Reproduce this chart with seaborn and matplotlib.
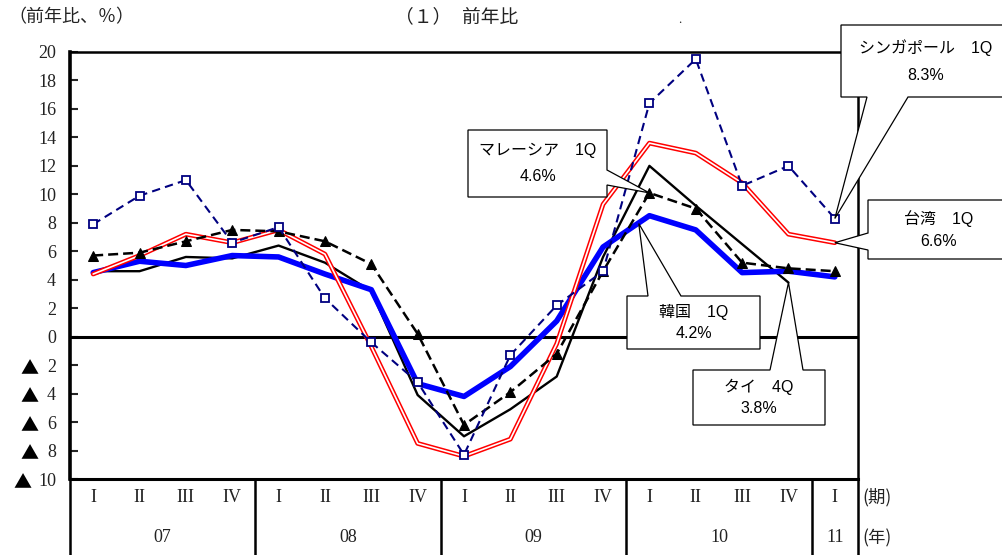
import matplotlib
matplotlib.use("Agg")
import matplotlib.pyplot as plt
import matplotlib.transforms as mtransforms
from matplotlib.patches import Polygon
from matplotlib.lines import Line2D
import seaborn as sns
import numpy as np

# ---- data (前年比, %) ----
quarter_labels = ["I", "II", "III", "IV"] * 4 + ["I"]
year_labels = ["07", "08", "09", "10", "11"]
year_spans = [(0, 3), (4, 7), (8, 11), (12, 15), (16, 16)]

singapore = [7.9, 9.9, 11.0, 6.6, 7.7, 2.7, -0.4, -3.2, -8.3, -1.3, 2.2, 4.6, 16.4, 19.5, 10.6, 12.0, 8.3]
taiwan = [4.4, 5.7, 7.2, 6.6, 7.5, 5.8, -0.7, -7.5, -8.4, -7.2, -0.5, 9.3, 13.6, 12.9, 10.8, 7.2, 6.6]
korea = [4.5, 5.3, 5.0, 5.7, 5.6, 4.4, 3.3, -3.3, -4.2, -2.1, 1.1, 6.3, 8.5, 7.5, 4.5, 4.6, 4.2]
thailand = [4.6, 4.6, 5.6, 5.5, 6.4, 5.2, 3.2, -4.1, -7.0, -5.1, -2.8, 5.6, 12.0, 9.2, 6.5, 3.8]
malaysia = [5.7, 5.9, 6.7, 7.5, 7.4, 6.7, 5.1, 0.2, -6.2, -3.9, -1.2, 4.6, 10.1, 9.0, 5.2, 4.8, 4.6]

sns.set_theme(style="white")
plt.rcParams["font.family"] = ["Liberation Serif", "Noto Sans CJK JP", "DejaVu Sans"]
SERIF = ["Liberation Serif", "Noto Sans CJK JP", "DejaVu Sans"]
GOTHIC = ["Noto Sans CJK JP", "DejaVu Sans"]
BOXFONT = ["Liberation Sans", "Noto Sans CJK JP", "DejaVu Sans"]
TXT = "#222222"

W, H = 1002, 555
fig = plt.figure(figsize=(W / 100, H / 100), dpi=100)
ax = fig.add_axes([70 / W, 1 - 479 / H, (858 - 70) / W, (479 - 52) / H])


def xs(vals):
    return np.arange(len(vals))


# zero line
ax.axhline(0, color="black", lw=2.2, zorder=1)

# Thailand: thin black line
sns.lineplot(x=xs(thailand), y=thailand, ax=ax, color="black", lw=1.7, zorder=3)
# Korea: thick blue line
sns.lineplot(x=xs(korea), y=korea, ax=ax, color="#0000FF", lw=4.0, zorder=4)
# Taiwan: red double line
sns.lineplot(x=xs(taiwan), y=taiwan, ax=ax, color="#FF0000", lw=3.4, zorder=5)
sns.lineplot(x=xs(taiwan), y=taiwan, ax=ax, color="white", lw=1.2, zorder=5.1)
# Malaysia: black dashed with triangles
sns.lineplot(x=xs(malaysia), y=malaysia, ax=ax, color="black", lw=1.8, zorder=6,
             marker="^", markersize=7, markeredgecolor="black", markerfacecolor="black",
             dashes=False, linestyle=(0, (4, 2)))
# Singapore: navy dashed with open squares
sns.lineplot(x=xs(singapore), y=singapore, ax=ax, color="#000080", lw=1.5, zorder=7,
             marker="s", markersize=5.5, markeredgecolor="#000080", markerfacecolor="white",
             markeredgewidth=1.3, dashes=False, linestyle=(0, (4, 2.5)))

ax.set_xlim(-0.5, 16.5)
ax.set_ylim(-10, 20)
yt = np.arange(-10, 21, 2)
ax.set_yticks(yt)
ax.set_yticklabels(["%d" % abs(v) for v in yt], fontsize=13, family=SERIF, color=TXT)
ax.set_xticks([])
ax.tick_params(axis="y", direction="in", length=6, width=1.5, pad=10, left=True)
ax.set_xlabel("")
ax.set_ylabel("")
ax.grid(False)
for side, lw in [("left", 2.6), ("top", 1.8), ("bottom", 2.2), ("right", 1.8)]:
    ax.spines[side].set_visible(True)
    ax.spines[side].set_color("black")
    ax.spines[side].set_linewidth(lw)

# negative values are marked with a leading triangle
lt = mtransforms.blended_transform_factory(fig.transFigure, ax.transData)
lt_low = mtransforms.offset_copy(lt, fig=fig, x=0, y=-4, units="dots")
for v in yt[yt < 0]:
    xr = 31 if abs(v) >= 10 else 38
    ax.text(xr / W, v, "▲", transform=lt_low, ha="right", va="center", fontsize=13,
            family=GOTHIC, color="black", clip_on=False)

# ---- category table under the plot ----
bt = mtransforms.blended_transform_factory(ax.transData, fig.transFigure)
for i, q in enumerate(quarter_labels):
    ax.text(i, 1 - 498 / H, q, transform=bt, ha="center", va="center",
            fontsize=13, family=SERIF, color=TXT)
for (a, b), y in zip(year_spans, year_labels):
    ax.text((a + b) / 2, 1 - 538 / H, y, transform=bt, ha="center", va="center",
            fontsize=13, family=SERIF, color=TXT)
for xb in [-0.5, 3.5, 7.5, 11.5, 15.5, 16.5]:
    ax.add_line(Line2D([xb, xb], [1 - 479 / H, 0], transform=bt, color="black",
                       lw=1.8, clip_on=False))
fig.text(862 / W, 1 - 497 / H, "(期)", ha="left", va="center", fontsize=12.5,
         family=GOTHIC, color=TXT)
fig.text(862 / W, 1 - 538 / H, "(年)", ha="left", va="center", fontsize=12.5,
         family=GOTHIC, color=TXT)

# ---- headings ----
fig.text(8 / W, 1 - 17 / H, "（前年比、％）", ha="left", va="center", fontsize=13,
         family=GOTHIC, color=TXT)
fig.text(395 / W, 1 - 17 / H, "（１）", ha="left", va="center", fontsize=13.5,
         family=GOTHIC, color=TXT)
fig.text(462 / W, 1 - 17 / H, "前年比", ha="left", va="center", fontsize=13.5,
         family=GOTHIC, color=TXT)
fig.text(680 / W, 1 - 20 / H, ".", ha="center", va="center", fontsize=9,
         family=SERIF, color=TXT)

# ---- callouts ----
to_fig = fig.transFigure.inverted()


def px(x, y):
    return (x / W, 1 - y / H)


def data_fig(x, y):
    return tuple(to_fig.transform(ax.transData.transform((x, y))))


def callout(box, side, base, tip, lines):
    x0, y0, x1, y1 = box  # pixel box (left, top, right, bottom)
    tipf = data_fig(*tip)
    a, b = base
    if side == "bottom":
        pts = [px(x0, y0), px(x1, y0), px(x1, y1), px(b, y1), tipf, px(a, y1), px(x0, y1)]
    elif side == "top":
        pts = [px(x0, y0), px(a, y0), tipf, px(b, y0), px(x1, y0), px(x1, y1), px(x0, y1)]
    elif side == "left":
        pts = [px(x0, y0), px(x1, y0), px(x1, y1), px(x0, y1), px(x0, b), tipf, px(x0, a)]
    else:  # right
        pts = [px(x0, y0), px(x1, y0), px(x1, a), tipf, px(x1, b), px(x1, y1), px(x0, y1)]
    fig.patches.append(Polygon(pts, closed=True, transform=fig.transFigure,
                               facecolor="white", edgecolor="black", lw=0.9, zorder=10))
    cx = (x0 + x1) / 2
    h = y1 - y0
    fig.text(cx / W, 1 - (y0 + h * 0.31) / H, lines[0], ha="center", va="center",
             fontsize=11.5, family=BOXFONT, color="black", zorder=11)
    fig.text(cx / W, 1 - (y0 + h * 0.70) / H, lines[1], ha="center", va="center",
             fontsize=11.5, family=BOXFONT, color="black", zorder=11)


callout((468, 130, 607, 197), "right", (170, 185), (12, malaysia[12]),
        ["マレーシア　1Q", "%.1f%%" % malaysia[-1]])
callout((627, 296, 760, 349), "top", (648, 681), (11.77, 7.95),
        ["韓国　1Q", "%.1f%%" % korea[-1]])
callout((693, 370, 825, 425), "top", (770, 803), (15, thailand[-1]),
        ["タイ　4Q", "%.1f%%" % thailand[-1]])
callout((841, 25, 1010, 97), "bottom", (867, 908), (16, singapore[-1]),
        ["シンガポール　1Q", "%.1f%%" % singapore[-1]])
callout((868, 200, 1010, 259), "left", (233, 250), (16, taiwan[-1]),
        ["台湾　1Q", "%.1f%%" % taiwan[-1]])

fig.savefig("out.png", dpi=100)
